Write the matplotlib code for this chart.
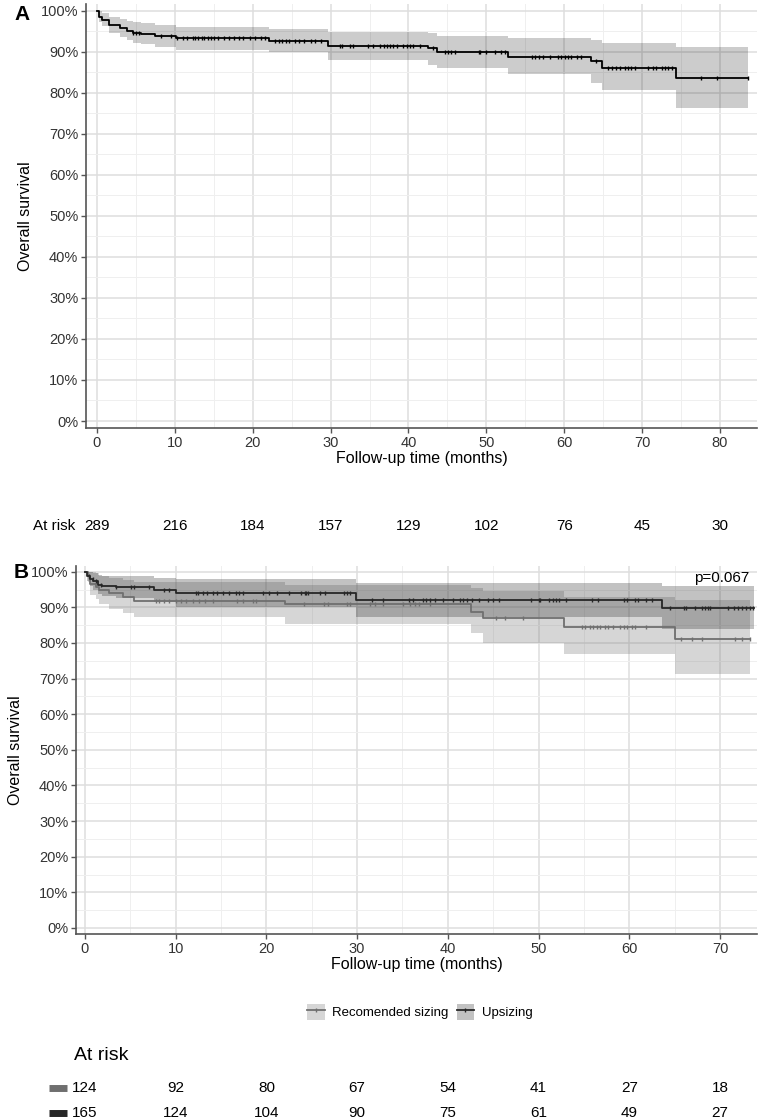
"""Kaplan-Meier overall survival: whole cohort (A) and by sizing strategy (B)."""

import matplotlib.pyplot as plt
from matplotlib.lines import Line2D
from matplotlib.patches import Patch
from matplotlib.ticker import MultipleLocator, PercentFormatter
from matplotlib.transforms import blended_transform_factory

plt.rcParams['font.family'] = ['Liberation Sans', 'DejaVu Sans']

# ---- panel A: all patients ----
a_time = [0, 0.3, 0.7, 1.6, 2.9, 3.9, 4.6, 5.6, 7.4, 10.1, 22.1, 29.7,
          42.5, 43.6, 52.8, 63.4, 64.8, 74.3]
a_surv = [100, 98.5, 97.7, 96.5, 95.7, 95.1, 94.6, 94.3, 93.9, 93.2, 92.6,
          91.4, 90.8, 89.8, 88.8, 87.6, 86.1, 83.5]
a_lower = [100, 97.2, 96.2, 94.6, 93.6, 92.8, 92.2, 91.8, 91.2, 90.5, 89.9,
           88.0, 86.8, 86.0, 84.6, 82.4, 80.7, 76.3]
a_upper = [100, 99.8, 99.3, 98.5, 97.9, 97.4, 97.1, 96.9, 96.6, 96.1, 95.6,
           94.9, 94.5, 93.9, 93.3, 92.8, 92.0, 91.2]
a_end = 83.6
a_censor = [4.6, 5.0, 5.4, 8.2, 9.5, 10.3, 11.0, 11.6, 12.3, 12.6, 13.0, 13.5,
            13.8, 14.2, 14.6, 15.0, 15.6, 16.3, 16.9, 17.6, 18.2, 18.8, 19.7,
            20.3, 21.0, 21.6, 22.8, 23.4, 23.8, 24.3, 24.7, 25.4, 26.0, 26.6,
            27.5, 28.0, 28.8, 31.2, 31.5, 32.5, 32.9, 34.8, 35.5, 36.3, 36.8,
            37.2, 37.6, 38.0, 38.5, 39.3, 39.8, 40.2, 40.6, 41.5, 43.2, 44.7,
            45.1, 45.5, 46.0, 49.0, 49.2, 50.0, 51.1, 51.9, 52.4, 55.8, 56.2,
            56.7, 57.3, 58.2, 59.2, 59.6, 60.1, 60.5, 60.9, 61.6, 62.2, 64.1,
            65.6, 66.1, 66.7, 67.1, 67.8, 68.2, 68.6, 69.1, 70.8, 71.4, 71.8,
            72.5, 72.9, 73.3, 73.8, 77.6, 79.6, 83.6]
a_risk_times = [0, 10, 20, 30, 40, 50, 60, 70, 80]
a_risk = [289, 216, 184, 157, 129, 102, 76, 45, 30]

# ---- panel B: recommended sizing vs upsizing ----
rec_time = [0, 0.3, 0.6, 1.2, 1.6, 2.7, 4.2, 5.4, 22.0, 42.6, 43.9, 52.8, 65.0]
rec_surv = [100, 98.9, 96.5, 95.8, 94.9, 93.9, 93.0, 91.8, 90.9, 88.8, 87.0,
            84.6, 81.1]
rec_lower = [100, 97.0, 93.5, 92.3, 91.0, 89.6, 88.4, 87.2, 85.3, 82.9, 80.1,
             76.8, 71.2]
rec_upper = [100, 100, 99.8, 99.5, 98.9, 98.3, 97.8, 97.0, 96.3, 95.5, 94.5,
             93.0, 92.0]
rec_end = 73.3
rec_censor = [7.8, 8.2, 8.75, 9.3, 10.0, 10.6, 11.1, 11.9, 12.6, 13.2, 14.1,
              16.8, 17.4, 18.5, 18.9, 24.1, 26.3, 26.8, 28.9, 29.2, 31.4, 32.0,
              32.9, 35.1, 35.8, 36.4, 36.8, 38.0, 45.3, 46.3, 48.3, 54.8, 55.1,
              55.7, 56.0, 56.4, 56.8, 57.3, 57.6, 58.2, 59.0, 59.4, 59.7, 60.3,
              60.6, 61.8, 65.7, 66.9, 68.0, 71.7, 72.4, 73.3]

ups_time = [0, 0.2, 0.5, 0.9, 1.4, 1.9, 3.4, 7.6, 10.0, 29.9, 63.6]
ups_surv = [100, 98.9, 97.9, 97.3, 96.3, 96.1, 95.6, 94.9, 94.0, 92.0, 89.7]
ups_lower = [100, 97.5, 96.0, 95.0, 93.8, 93.3, 92.6, 91.6, 90.0, 87.2, 83.9]
ups_upper = [100, 100, 99.8, 99.5, 99.0, 98.9, 98.7, 98.3, 97.9, 96.7, 96.1]
ups_end = 73.7
ups_censor = [0.48, 0.85, 1.21, 1.76, 3.42, 5.07, 5.44, 7.09, 8.75, 9.3, 12.2,
              12.5, 13.0, 13.5, 14.1, 14.6, 15.2, 15.9, 16.6, 17.0, 17.4, 19.6,
              20.3, 21.2, 22.5, 23.8, 24.2, 24.4, 24.6, 25.9, 26.5, 28.5, 28.9,
              29.2, 31.6, 32.9, 35.7, 36.2, 37.3, 37.6, 38.0, 38.6, 39.5, 40.6,
              41.3, 41.7, 42.1, 42.7, 43.4, 44.4, 45.0, 45.6, 49.2, 50.0, 50.2,
              51.2, 51.6, 51.9, 52.3, 53.0, 55.9, 56.6, 59.4, 59.7, 60.6, 61.0,
              61.8, 62.5, 64.5, 66.0, 66.3, 67.2, 68.0, 68.3, 68.7, 68.9, 70.9,
              71.5, 72.0, 72.4, 72.9, 73.3, 73.6]
b_risk_times = [0, 10, 20, 30, 40, 50, 60, 70]
rec_risk = [124, 92, 80, 67, 54, 41, 27, 18]
ups_risk = [165, 124, 104, 90, 75, 61, 49, 27]
groups = ['Recomended sizing', 'Upsizing']
p_value = 'p=0.067'

REC_LINE = '#6f6f6f'
UPS_LINE = '#262626'
TICK_COL = '#333333'
W, H = 760, 1120

fig = plt.figure(figsize=(W / 100, H / 100), dpi=100)


def px_axes(left, top, right, bottom):
    return fig.add_axes([left / W, 1 - bottom / H, (right - left) / W,
                         (bottom - top) / H])


def surv_at(times, surv, t):
    val = surv[0]
    for ti, si in zip(times, surv):
        if ti <= t:
            val = si
    return val


def draw_km(ax, times, surv, lower, upper, end, censor, line, fill, alpha):
    t = list(times) + [end]
    ax.fill_between(t, list(lower) + [lower[-1]], list(upper) + [upper[-1]],
                    step='post', color=fill, alpha=alpha, lw=0)
    ax.step(t, list(surv) + [surv[-1]], where='post', color=line, lw=1.3)
    ax.plot(censor, [surv_at(times, surv, c) for c in censor], ls='none',
            marker='|', ms=3.5, mew=1.0, color=line)


def style_axes(ax, xlim, xmax_tick):
    ax.set_xlim(*xlim)
    ax.set_ylim(-1.7, 101.6)
    ax.set_xticks(range(0, xmax_tick + 1, 10))
    ax.xaxis.set_minor_locator(MultipleLocator(5))
    ax.set_yticks(range(0, 101, 10))
    ax.yaxis.set_minor_locator(MultipleLocator(5))
    ax.yaxis.set_major_formatter(PercentFormatter(decimals=0))
    ax.grid(True, which='major', color='#dedede', lw=1.1)
    ax.grid(True, which='minor', color='#efefef', lw=0.7)
    ax.set_axisbelow(True)
    for side in ('top', 'right'):
        ax.spines[side].set_visible(False)
    for side in ('left', 'bottom'):
        ax.spines[side].set_color('#555555')
        ax.spines[side].set_linewidth(1.2)
    ax.tick_params(which='major', length=3.5, width=1.0, color='#555555',
                   labelsize=10.5, labelcolor=TICK_COL, pad=2)
    ax.tick_params(which='minor', length=0)
    ax.set_xlabel('Follow-up time (months)', fontsize=11.5, labelpad=1)
    ax.set_ylabel('Overall survival', fontsize=11.5, labelpad=6)


# ---- A ----
axA = px_axes(86, 4, 757, 428)
draw_km(axA, a_time, a_surv, a_lower, a_upper, a_end, a_censor,
        'black', '#000000', 0.2)
style_axes(axA, (-1.41, 84.75), 80)
fig.text(14 / W, 1 - 14 / H, 'A', fontsize=15, fontweight='bold',
         ha='left', va='center')

trA = blended_transform_factory(axA.transData, fig.transFigure)
fig.text(33 / W, 1 - 526 / H, 'At risk', fontsize=11, ha='left', va='center')
for t, n in zip(a_risk_times, a_risk):
    axA.text(t, 1 - 526 / H, str(n), transform=trA, fontsize=11,
             ha='center', va='center')

# ---- B ----
axB = px_axes(76, 566, 757, 934)
draw_km(axB, rec_time, rec_surv, rec_lower, rec_upper, rec_end, rec_censor,
        REC_LINE, REC_LINE, 0.28)
draw_km(axB, ups_time, ups_surv, ups_lower, ups_upper, ups_end, ups_censor,
        UPS_LINE, UPS_LINE, 0.28)
style_axes(axB, (-0.99, 74.08), 70)
axB.text(73.2, 98.2, p_value, fontsize=11, ha='right', va='center')
fig.text(14 / W, 1 - 572 / H, 'B', fontsize=15, fontweight='bold',
         ha='left', va='center')

handles = [(Patch(facecolor=c, alpha=0.28, edgecolor='none'),
            Line2D([], [], color=c, lw=1.3, marker='|', ms=3.5))
           for c in (REC_LINE, UPS_LINE)]
fig.legend(handles, groups, loc='center', bbox_to_anchor=(420 / W, 1 - 1012 / H),
           ncol=2, frameon=False, fontsize=9.5, handlelength=1.3,
           handleheight=1.6, handletextpad=0.6, columnspacing=0.6)

fig.text(74 / W, 1 - 1055 / H, 'At risk', fontsize=14, ha='left', va='center')
trB = blended_transform_factory(axB.transData, fig.transFigure)
for row_y, col, counts in ((1088, REC_LINE, rec_risk), (1113, UPS_LINE, ups_risk)):
    fig.add_artist(Line2D([49 / W, 67 / W], [1 - row_y / H] * 2, color=col,
                          lw=5, solid_capstyle='butt'))
    for t, n in zip(b_risk_times, counts):
        axB.text(t, 1 - row_y / H, str(n), transform=trB, fontsize=11,
                 ha='center', va='center')

fig.savefig('out.png', dpi=100)
